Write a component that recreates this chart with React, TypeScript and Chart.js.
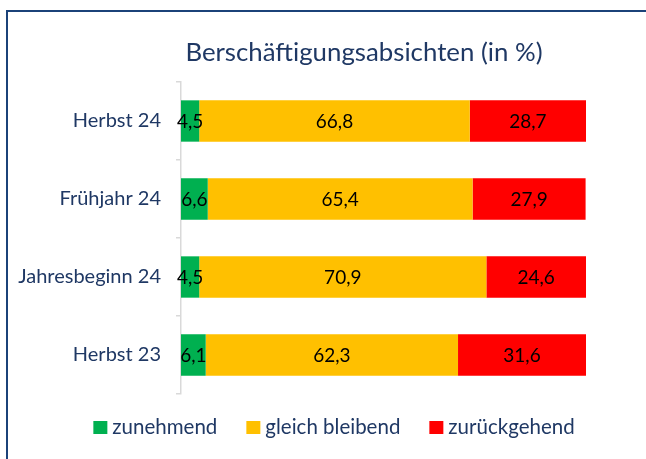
import React, { useEffect, useRef } from "react";
import { Chart, registerables } from "chart.js";

Chart.register(...registerables);

const categories = ["Herbst 24", "Frühjahr 24", "Jahresbeginn 24", "Herbst 23"];
const zunehmend = [4.5, 6.6, 4.5, 6.1];
const gleichBleibend = [66.8, 65.4, 70.9, 62.3];
const zurueckgehend = [28.7, 27.9, 24.6, 31.6];
const seriesNames = ["zunehmend", "gleich bleibend", "zurückgehend"];
const seriesColors = ["#00B050", "#FFC000", "#FF0000"];
const titleText = "Berschäftigungsabsichten (in %)";

const TEXT_BLUE = "#1F3864";
const FONT = "Lato, 'Open Sans', sans-serif";

const fmt = (v: number) => v.toFixed(1).replace(".", ",");

const labelsPlugin = {
  id: "segmentLabels",
  afterDatasetsDraw(chart: any) {
    const ctx = chart.ctx;
    ctx.save();
    ctx.font = `19px ${FONT}`;
    ctx.fillStyle = "#000000";
    ctx.textAlign = "center";
    ctx.textBaseline = "middle";
    chart.data.datasets.forEach((ds: any, di: number) => {
      const meta = chart.getDatasetMeta(di);
      meta.data.forEach((bar: any, i: number) => {
        const cx = (bar.x + bar.base) / 2;
        ctx.fillText(fmt(ds.data[i]), cx, bar.y + 1);
      });
    });
    ctx.restore();
  },
};

const titleLegendPlugin = {
  id: "titleLegend",
  afterDraw(chart: any) {
    const ctx = chart.ctx;
    ctx.save();
    // title
    ctx.font = `25.8px ${FONT}`;
    ctx.fillStyle = TEXT_BLUE;
    ctx.textAlign = "center";
    ctx.textBaseline = "alphabetic";
    ctx.fillText(titleText, 364, 61);
    // legend
    ctx.font = `20.5px ${FONT}`;
    const box = 14;
    const gapText = 5;
    const gapItem = 29;
    const widths = seriesNames.map((n) => ctx.measureText(n).width);
    const total =
      widths.reduce((a, b) => a + b, 0) + seriesNames.length * (box + gapText) + (seriesNames.length - 1) * gapItem;
    let x = 334 - total / 2;
    const cy = 427.5;
    ctx.textAlign = "left";
    ctx.textBaseline = "middle";
    seriesNames.forEach((n, i) => {
      ctx.fillStyle = seriesColors[i];
      ctx.fillRect(x, cy - 6.5, box, 13);
      x += box + gapText;
      ctx.fillStyle = TEXT_BLUE;
      ctx.fillText(n, x, cy);
      x += widths[i] + gapItem;
    });
    ctx.restore();
  },
};

export default function App() {
  const ref = useRef<HTMLCanvasElement | null>(null);
  useEffect(() => {
    if (!ref.current) return;
    const chart = new Chart(ref.current, {
      type: "bar",
      data: {
        labels: categories,
        datasets: [
          { label: seriesNames[0], data: zunehmend, backgroundColor: seriesColors[0] },
          { label: seriesNames[1], data: gleichBleibend, backgroundColor: seriesColors[1] },
          { label: seriesNames[2], data: zurueckgehend, backgroundColor: seriesColors[2] },
        ],
      },
      options: {
        indexAxis: "y",
        animation: false,
        responsive: false,
        devicePixelRatio: 1,
        layout: { padding: { left: 0, right: 60, top: 82, bottom: 65 } },
        datasets: { bar: { categoryPercentage: 1, barPercentage: 0.53, borderWidth: 0 } },
        plugins: { legend: { display: false }, title: { display: false }, tooltip: { enabled: false } },
        scales: {
          x: { stacked: true, min: 0, max: 100, display: false },
          y: {
            stacked: true,
            offset: true,
            afterFit: (s: any) => {
              s.width = 181;
            },
            grid: {
              display: true,
              drawOnChartArea: false,
              drawTicks: true,
              tickLength: 5,
              color: "#D9D9D9",
              lineWidth: 1.5,
              offset: true,
            },
            border: { display: true, color: "#D9D9D9", width: 1.5 },
            ticks: {
              color: TEXT_BLUE,
              font: { family: FONT, size: 20 },
              padding: 15,
            },
          },
        },
      },
      plugins: [labelsPlugin, titleLegendPlugin],
    });
    return () => chart.destroy();
  }, []);

  return (
    <div style={{ position: "fixed", left: 0, top: 0, width: 646, height: 459, overflow: "hidden", background: "#fff" }}>
      <div
        style={{
          position: "absolute",
          left: 6,
          top: 10,
          width: 800,
          height: 600,
          borderLeft: "2px solid #1B4279",
          borderTop: "2px solid #1B4279",
        }}
      />
      <canvas
        ref={ref}
        width={646}
        height={459}
        style={{ position: "absolute", left: 0, top: 0, width: 646, height: 459 }}
      />
    </div>
  );
}
